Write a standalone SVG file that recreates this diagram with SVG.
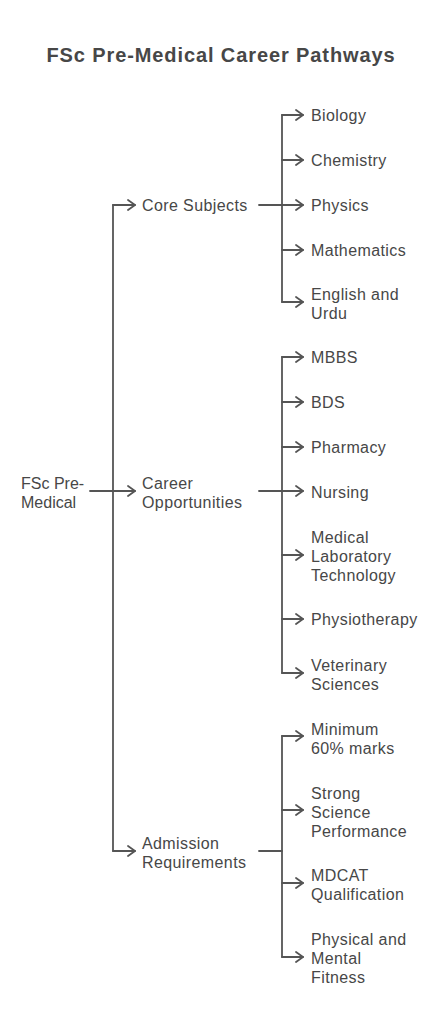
<svg xmlns="http://www.w3.org/2000/svg" width="443" height="1024" viewBox="0 0 443 1024">
<style>
.t{font-family:"Liberation Sans",Arial,sans-serif;font-size:16px;fill:#474747;letter-spacing:0.4px}
.r{letter-spacing:0}
.title{font-family:"Liberation Sans",Arial,sans-serif;font-size:20px;font-weight:bold;fill:#474747;letter-spacing:0.9px}
.c{fill:none;stroke:#555;stroke-width:1.8;stroke-linecap:round;stroke-linejoin:round}
</style>
<defs>
<marker id="ah" markerUnits="userSpaceOnUse" markerWidth="10" markerHeight="12" refX="8" refY="6" orient="auto" viewBox="0 0 10 12">
<path d="M1,1 L8,6 L1,11" fill="none" stroke="#555" stroke-width="1.8" stroke-linecap="round" stroke-linejoin="round"/>
</marker>
</defs>
<rect width="443" height="1024" fill="#fff"/>
<text class="title" x="221" y="62" text-anchor="middle">FSc Pre-Medical Career Pathways</text>
<g id="connectors">
<path class="c" d="M90 491 H113"/>
<path class="c" d="M113 205 V851"/>
<path class="c" d="M113 205 H135" marker-end="url(#ah)"/>
<path class="c" d="M113 491 H135" marker-end="url(#ah)"/>
<path class="c" d="M113 851 H135" marker-end="url(#ah)"/>
<path class="c" d="M259 205 H282"/>
<path class="c" d="M282 115 V302"/>
<path class="c" d="M282 115 H303" marker-end="url(#ah)"/>
<path class="c" d="M282 160 H303" marker-end="url(#ah)"/>
<path class="c" d="M282 205 H303" marker-end="url(#ah)"/>
<path class="c" d="M282 250 H303" marker-end="url(#ah)"/>
<path class="c" d="M282 302 H303" marker-end="url(#ah)"/>
<path class="c" d="M259 491 H282"/>
<path class="c" d="M282 357 V673"/>
<path class="c" d="M282 357 H303" marker-end="url(#ah)"/>
<path class="c" d="M282 402 H303" marker-end="url(#ah)"/>
<path class="c" d="M282 447 H303" marker-end="url(#ah)"/>
<path class="c" d="M282 491 H303" marker-end="url(#ah)"/>
<path class="c" d="M282 555 H303" marker-end="url(#ah)"/>
<path class="c" d="M282 619 H303" marker-end="url(#ah)"/>
<path class="c" d="M282 673 H303" marker-end="url(#ah)"/>
<path class="c" d="M259 851 H282"/>
<path class="c" d="M282 736 V957"/>
<path class="c" d="M282 736 H303" marker-end="url(#ah)"/>
<path class="c" d="M282 810 H303" marker-end="url(#ah)"/>
<path class="c" d="M282 883 H303" marker-end="url(#ah)"/>
<path class="c" d="M282 957 H303" marker-end="url(#ah)"/>
</g>
<g id="root"><text class="t r" x="21" y="489">FSc Pre-</text><text class="t r" x="21" y="508">Medical</text></g>
<g id="core"><text class="t" x="142" y="211">Core Subjects</text></g>
<g id="career"><text class="t" x="142" y="489">Career</text><text class="t" x="142" y="508">Opportunities</text></g>
<g id="admission"><text class="t" x="142" y="849">Admission</text><text class="t" x="142" y="868">Requirements</text></g>
<g id="biology"><text class="t" x="311" y="121">Biology</text></g>
<g id="chemistry"><text class="t" x="311" y="166">Chemistry</text></g>
<g id="physics"><text class="t" x="311" y="211">Physics</text></g>
<g id="mathematics"><text class="t" x="311" y="256">Mathematics</text></g>
<g id="english"><text class="t" x="311" y="300">English and</text><text class="t" x="311" y="319">Urdu</text></g>
<g id="mbbs"><text class="t" x="311" y="363">MBBS</text></g>
<g id="bds"><text class="t" x="311" y="408">BDS</text></g>
<g id="pharmacy"><text class="t" x="311" y="453">Pharmacy</text></g>
<g id="nursing"><text class="t" x="311" y="498">Nursing</text></g>
<g id="mlt"><text class="t" x="311" y="543">Medical</text><text class="t" x="311" y="562">Laboratory</text><text class="t" x="311" y="581">Technology</text></g>
<g id="physiotherapy"><text class="t" x="311" y="625">Physiotherapy</text></g>
<g id="veterinary"><text class="t" x="311" y="671">Veterinary</text><text class="t" x="311" y="690">Sciences</text></g>
<g id="minimum"><text class="t" x="311" y="735">Minimum</text><text class="t" x="311" y="754">60% marks</text></g>
<g id="strong"><text class="t" x="311" y="799">Strong</text><text class="t" x="311" y="818">Science</text><text class="t" x="311" y="837">Performance</text></g>
<g id="mdcat"><text class="t" x="311" y="881">MDCAT</text><text class="t" x="311" y="900">Qualification</text></g>
<g id="fitness"><text class="t" x="311" y="945">Physical and</text><text class="t" x="311" y="964">Mental</text><text class="t" x="311" y="983">Fitness</text></g>
</svg>
